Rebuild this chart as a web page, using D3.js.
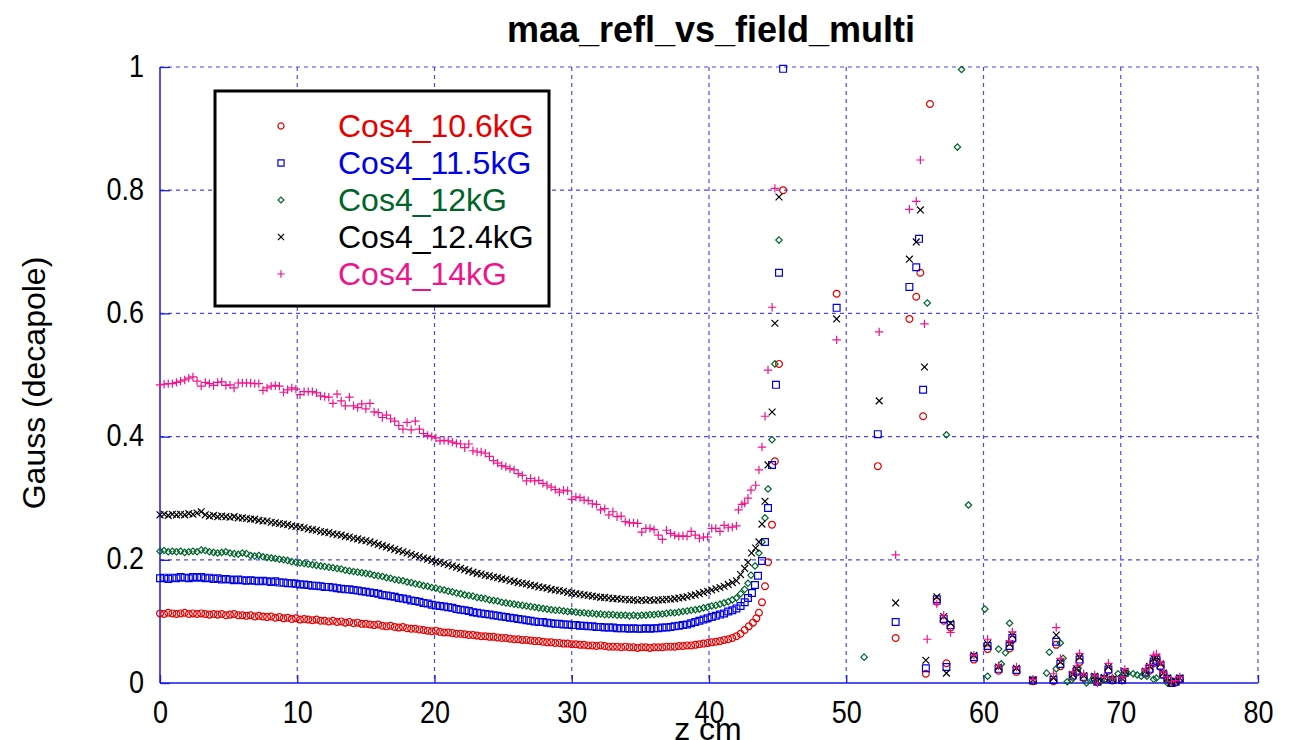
<!DOCTYPE html>
<html><head><meta charset="utf-8">
<script src="https://cdn.jsdelivr.net/npm/d3@7"></script>
<style>body{margin:0;background:#fff}svg{display:block}text{font-family:"Liberation Sans",Arial,sans-serif}</style>
</head><body><svg id="c" width="1295" height="740"></svg>
<script>
const title = "maa_refl_vs_field_multi";
const xLabel = "z cm";
const yLabel = "Gauss (decapole)";
const xTicks = [0,10,20,30,40,50,60,70,80];
const yTicks = [0,0.2,0.4,0.6,0.8,1];
const seriesNames = ["Cos4_10.6kG","Cos4_11.5kG","Cos4_12kG","Cos4_12.4kG","Cos4_14kG"];
const seriesColors = ["#e60000","#0000e6","#00642a","#000000","#f0148c"];
const seriesMarkers = ["circle","square","diamond","cross","plus"];

// dense sampling positions (cm)
const zDense = [0,0.3,0.6,0.9,1.2,1.5,1.8,2.1,2.4,2.7,3,3.3,3.6,3.9,4.2,4.5,4.8,5.1,5.4,5.7,
6,6.3,6.6,6.9,7.2,7.5,7.8,8.1,8.4,8.7,9,9.3,9.6,9.9,10.2,10.5,10.8,11.1,11.4,11.7,
12,12.3,12.6,12.9,13.2,13.5,13.8,14.1,14.4,14.7,15,15.3,15.6,15.9,16.2,16.5,16.8,17.1,17.4,17.7,
18,18.3,18.6,18.9,19.2,19.5,19.8,20.1,20.4,20.7,21,21.3,21.6,21.9,22.2,22.5,22.8,23.1,23.4,23.7,
24,24.3,24.6,24.9,25.2,25.5,25.8,26.1,26.4,26.7,27,27.3,27.6,27.9,28.2,28.5,28.8,29.1,29.4,29.7,
30,30.3,30.6,30.9,31.2,31.5,31.8,32.1,32.4,32.7,33,33.3,33.6,33.9,34.2,34.5,34.8,35.1,35.4,35.7,
36,36.3,36.6,36.9,37.2,37.5,37.8,38.1,38.4,38.7,39,39.3,39.6,39.9,40.2,40.5,40.8,41.1,41.4,41.7,42];

const red106 = [0.113,0.112,0.114,0.113,0.112,0.113,0.114,0.112,0.113,0.112,
0.113,0.112,0.111,0.112,0.111,0.112,0.110,0.111,0.112,0.110,
0.110,0.109,0.110,0.108,0.109,0.108,0.107,0.108,0.106,0.107,
0.105,0.106,0.104,0.105,0.103,0.104,0.103,0.102,0.103,0.101,
0.101,0.100,0.101,0.099,0.100,0.098,0.099,0.097,0.098,0.096,
0.096,0.095,0.094,0.095,0.093,0.092,0.093,0.091,0.090,0.091,
0.089,0.088,0.088,0.087,0.086,0.085,0.084,0.085,0.083,0.082,
0.082,0.081,0.080,0.080,0.079,0.078,0.078,0.077,0.076,0.076,
0.075,0.075,0.074,0.073,0.073,0.072,0.071,0.071,0.070,0.070,
0.069,0.068,0.068,0.067,0.066,0.066,0.065,0.065,0.064,0.064,
0.063,0.063,0.062,0.062,0.061,0.061,0.060,0.061,0.060,0.059,
0.059,0.059,0.058,0.059,0.058,0.058,0.057,0.058,0.058,0.057,
0.058,0.058,0.058,0.059,0.059,0.059,0.060,0.060,0.061,0.061,
0.062,0.063,0.064,0.065,0.066,0.067,0.068,0.070,0.071,0.073,0.076];
const red106Tail = [[42.3,0.080],[42.6,0.086],[42.9,0.092],[43.2,0.098],[43.45,0.105],[43.64,0.114],[43.86,0.131],[44.08,0.157],[44.3,0.196],[44.59,0.257],[44.8,0.36],[45.1,0.518],[45.4,0.80],[49.3,0.632],[52.3,0.352],[53.6,0.073],[54.6,0.591],[55.1,0.627],[55.4,0.666],[55.6,0.433],[55.8,0.015],[56.1,0.94],[56.6,0.132],[57.1,0.101],[57.3,0.032],[57.6,0.09],[59.3,0.038],[60.3,0.055],[61.1,0.02],[61.9,0.056],[62.1,0.07],[62.4,0.018],[63.6,0.003],[65.1,0.003],[65.3,0.062],[65.6,0.027],[66.5,0.01],[66.8,0.017],[67.0,0.034],[67.3,0.008],[68.1,0.007],[68.3,0.002],[68.8,0.006],[69.1,0.02],[69.4,0.004],[70.1,0.004],[70.3,0.015],[71.8,0.015],[72.1,0.02],[72.4,0.032],[72.6,0.035],[72.9,0.026],[73.1,0.013],[73.4,0.006],[73.7,0.0],[74.0,0.001],[74.3,0.006]];

const blue115 = [0.170,0.171,0.169,0.171,0.170,0.172,0.171,0.170,0.172,0.171,
0.172,0.170,0.171,0.169,0.170,0.168,0.169,0.168,0.167,0.168,
0.167,0.166,0.167,0.166,0.165,0.166,0.165,0.164,0.165,0.163,
0.163,0.162,0.162,0.161,0.160,0.160,0.159,0.158,0.158,0.157,
0.156,0.156,0.155,0.154,0.153,0.152,0.152,0.151,0.150,0.149,
0.148,0.147,0.146,0.145,0.143,0.142,0.141,0.140,0.138,0.137,
0.136,0.134,0.133,0.132,0.130,0.129,0.127,0.126,0.125,0.124,
0.123,0.122,0.120,0.119,0.118,0.117,0.115,0.114,0.113,0.112,
0.111,0.110,0.109,0.108,0.107,0.106,0.105,0.104,0.103,0.102,
0.101,0.100,0.099,0.099,0.098,0.097,0.096,0.096,0.095,0.095,
0.094,0.094,0.093,0.093,0.092,0.092,0.091,0.091,0.090,0.090,
0.090,0.089,0.089,0.089,0.088,0.089,0.088,0.088,0.089,0.088,
0.089,0.089,0.090,0.090,0.091,0.092,0.093,0.094,0.095,0.097,
0.099,0.101,0.103,0.105,0.107,0.109,0.111,0.113,0.116,0.118,0.121];
const blue115Tail = [[42.3,0.125],[42.6,0.131],[42.84,0.138],[43.13,0.146],[43.35,0.159],[43.57,0.174],[43.86,0.198],[44.08,0.229],[44.3,0.284],[44.59,0.354],[44.88,0.484],[45.1,0.666],[45.4,0.997],[49.3,0.609],[52.3,0.404],[53.6,0.099],[54.6,0.643],[55.1,0.675],[55.3,0.721],[55.6,0.476],[55.8,0.024],[56.6,0.136],[57.1,0.104],[57.3,0.026],[57.6,0.094],[59.3,0.042],[60.3,0.06],[61.1,0.023],[61.9,0.06],[62.1,0.073],[62.4,0.021],[63.6,0.004],[65.1,0.005],[65.3,0.067],[65.6,0.031],[66.5,0.012],[66.8,0.02],[67.0,0.038],[67.3,0.01],[68.1,0.009],[68.3,0.002],[68.8,0.007],[69.1,0.022],[69.4,0.005],[70.1,0.005],[70.3,0.017],[71.8,0.017],[72.1,0.023],[72.4,0.035],[72.6,0.038],[72.9,0.028],[73.1,0.014],[73.4,0.007],[73.7,0.0],[74.0,0.002],[74.3,0.007]];

const green12 = [0.214,0.215,0.213,0.214,0.213,0.214,0.212,0.213,0.214,0.213,
0.216,0.215,0.213,0.212,0.211,0.212,0.213,0.211,0.210,0.209,
0.211,0.210,0.207,0.206,0.207,0.205,0.204,0.203,0.202,0.201,
0.200,0.199,0.197,0.196,0.195,0.194,0.193,0.192,0.191,0.190,
0.189,0.188,0.187,0.186,0.185,0.183,0.182,0.181,0.180,0.179,
0.178,0.177,0.175,0.174,0.173,0.171,0.170,0.168,0.167,0.166,
0.164,0.163,0.161,0.160,0.158,0.157,0.155,0.154,0.152,0.151,
0.149,0.148,0.146,0.145,0.143,0.142,0.141,0.139,0.138,0.137,
0.135,0.134,0.133,0.131,0.130,0.129,0.128,0.127,0.126,0.125,
0.124,0.123,0.122,0.121,0.120,0.119,0.118,0.118,0.117,0.116,
0.116,0.115,0.114,0.114,0.113,0.113,0.112,0.112,0.111,0.111,
0.111,0.110,0.110,0.110,0.109,0.110,0.109,0.110,0.110,0.111,
0.111,0.112,0.112,0.113,0.114,0.114,0.115,0.116,0.117,0.118,
0.119,0.120,0.122,0.123,0.125,0.126,0.128,0.130,0.132,0.135,0.138];
const green12Tail = [[42.3,0.145],[42.6,0.152],[42.84,0.162],[43.06,0.175],[43.35,0.19],[43.64,0.211],[43.86,0.229],[44.08,0.268],[44.3,0.315],[44.59,0.395],[44.8,0.518],[45.1,0.719],[51.3,0.042],[55.9,0.617],[57.3,0.403],[58.1,0.87],[58.4,0.996],[58.9,0.289],[60.1,0.12],[60.3,0.011],[61.1,0.055],[61.3,0.031],[61.6,0.049],[61.9,0.097],[64.6,0.016],[64.8,0.05],[65.3,0.023],[65.6,0.065],[65.8,0.04],[66.1,0.002],[66.4,0.005],[66.9,0.024],[67.5,0.0],[67.9,0.005],[68.5,0.002],[68.9,0.006],[69.4,0.008],[69.8,0.015],[70.1,0.012],[70.5,0.016],[70.9,0.015],[71.2,0.013],[71.5,0.011],[71.9,0.011],[72.4,0.006],[72.6,0.008],[73.4,0.0]];

const black124 = [0.273,0.274,0.272,0.274,0.273,0.274,0.273,0.275,0.274,0.276,
0.278,0.273,0.271,0.272,0.270,0.271,0.270,0.269,0.270,0.268,
0.268,0.267,0.266,0.266,0.264,0.263,0.263,0.261,0.260,0.259,
0.258,0.257,0.255,0.254,0.253,0.252,0.250,0.249,0.248,0.246,
0.245,0.244,0.242,0.241,0.240,0.238,0.237,0.235,0.234,0.232,
0.231,0.229,0.227,0.225,0.223,0.221,0.219,0.217,0.215,0.213,
0.211,0.209,0.207,0.205,0.203,0.201,0.199,0.197,0.196,0.194,
0.192,0.190,0.188,0.186,0.184,0.182,0.180,0.178,0.177,0.175,
0.174,0.172,0.171,0.169,0.168,0.166,0.165,0.163,0.162,0.161,
0.159,0.158,0.156,0.155,0.154,0.152,0.151,0.150,0.149,0.147,
0.146,0.145,0.144,0.143,0.142,0.141,0.140,0.139,0.139,0.138,
0.137,0.137,0.136,0.136,0.135,0.135,0.134,0.135,0.134,0.135,
0.134,0.135,0.135,0.136,0.136,0.137,0.138,0.139,0.140,0.142,
0.143,0.145,0.147,0.149,0.151,0.153,0.155,0.157,0.160,0.163,0.166];
const black124Tail = [[42.3,0.176],[42.6,0.186],[42.84,0.196],[43.1,0.211],[43.4,0.219],[43.64,0.229],[43.86,0.258],[44.08,0.295],[44.3,0.354],[44.6,0.44],[44.8,0.584],[45.1,0.789],[49.3,0.591],[52.4,0.458],[53.6,0.13],[54.6,0.688],[55.1,0.716],[55.4,0.768],[55.7,0.513],[55.8,0.037],[56.6,0.14],[57.1,0.108],[57.3,0.016],[57.6,0.097],[59.3,0.045],[60.3,0.064],[61.1,0.026],[61.9,0.064],[62.1,0.078],[62.4,0.024],[63.6,0.005],[65.1,0.008],[65.3,0.078],[65.6,0.034],[66.5,0.014],[66.8,0.023],[67.0,0.042],[67.3,0.012],[68.1,0.011],[68.3,0.003],[68.8,0.009],[69.1,0.026],[69.4,0.006],[70.1,0.007],[70.3,0.019],[71.8,0.019],[72.1,0.027],[72.4,0.04],[72.6,0.042],[72.9,0.031],[73.1,0.016],[73.4,0.008],[73.7,0.001],[74.0,0.003],[74.3,0.008]];

const pink14 = [0.484,0.485,0.486,0.486,0.488,0.490,0.492,0.495,0.497,0.490,
0.482,0.488,0.486,0.483,0.488,0.489,0.483,0.484,0.479,0.487,
0.487,0.487,0.487,0.486,0.486,0.475,0.479,0.482,0.483,0.482,
0.472,0.476,0.479,0.477,0.468,0.473,0.473,0.473,0.471,0.466,
0.465,0.464,0.454,0.469,0.458,0.450,0.464,0.450,0.447,0.453,
0.445,0.454,0.440,0.439,0.431,0.435,0.429,0.425,0.418,0.412,
0.423,0.411,0.425,0.412,0.405,0.402,0.400,0.398,0.393,0.394,
0.393,0.391,0.389,0.388,0.382,0.388,0.377,0.375,0.375,0.373,
0.368,0.361,0.357,0.353,0.351,0.348,0.346,0.340,0.337,0.328,
0.332,0.328,0.329,0.324,0.321,0.318,0.314,0.310,0.313,0.312,
0.298,0.302,0.301,0.297,0.296,0.291,0.290,0.281,0.283,0.273,
0.278,0.270,0.271,0.262,0.260,0.260,0.259,0.245,0.251,0.251,
0.249,0.240,0.233,0.248,0.243,0.240,0.238,0.239,0.238,0.246,
0.240,0.235,0.237,0.237,0.251,0.251,0.246,0.256,0.252,0.253,0.255];
const pink14Tail = [[42.15,0.281],[42.4,0.29],[42.6,0.292],[42.84,0.300],[43.06,0.313],[43.4,0.321],[43.64,0.346],[43.86,0.383],[44.08,0.433],[44.3,0.508],[44.6,0.61],[44.8,0.803],[49.3,0.557],[52.4,0.57],[53.6,0.208],[54.6,0.769],[55.1,0.782],[55.4,0.849],[55.7,0.583],[55.9,0.071],[56.6,0.128],[57.1,0.11],[57.6,0.082],[59.3,0.045],[60.3,0.071],[61.1,0.028],[61.9,0.068],[62.1,0.083],[62.4,0.026],[63.6,0.006],[65.1,0.015],[65.3,0.09],[65.6,0.04],[66.5,0.018],[66.8,0.028],[67.0,0.048],[67.3,0.015],[68.1,0.013],[68.3,0.0],[68.8,0.01],[69.1,0.032],[69.4,0.008],[70.1,0.01],[70.3,0.022],[71.8,0.022],[72.1,0.03],[72.4,0.045],[72.6,0.047],[72.9,0.034],[73.1,0.018],[73.4,0.01],[73.7,0.002],[74.0,0.004],[74.3,0.01]];

const denseSets = [red106, blue115, green12, black124, pink14];
const tailSets = [red106Tail, blue115Tail, green12Tail, black124Tail, pink14Tail];

const svg = d3.select("#c");
const L = 160, R = 1258, T = 67, B = 683;
const x = d3.scaleLinear().domain([0,80]).range([L,R]);
const y = d3.scaleLinear().domain([0,1]).range([B,T]);
const gridColor = "#4a4aee", axisColor = "#1a1ae0";
const FONT = '"Liberation Sans",Arial,sans-serif';

// grid
const g = svg.append("g");
g.selectAll(".gx").data(xTicks.filter(d=>d>0)).join("line")
  .attr("x1",d=>x(d)).attr("x2",d=>x(d)).attr("y1",T).attr("y2",B)
  .attr("stroke",gridColor).attr("stroke-width",1.2).attr("stroke-dasharray","4,4");
g.selectAll(".gy").data(yTicks.filter(d=>d>0)).join("line")
  .attr("x1",L).attr("x2",R).attr("y1",d=>y(d)).attr("y2",d=>y(d))
  .attr("stroke",gridColor).attr("stroke-width",1.2).attr("stroke-dasharray","4,4");

// axes (solid left & bottom with inward ticks)
const xAxis = d3.axisBottom(x).tickValues(xTicks).tickSize(-8).tickFormat(d3.format("d"));
const yAxis = d3.axisLeft(y).tickValues(yTicks).tickSize(-10).tickFormat(d=>d===0?"0":d===1?"1":d3.format(".1f")(d));
const gx = svg.append("g").attr("transform",`translate(0,${B})`).call(xAxis);
const gy = svg.append("g").attr("transform",`translate(${L},0)`).call(yAxis);
[gx,gy].forEach(a=>{
  a.select(".domain").attr("stroke",axisColor).attr("stroke-width",1.5);
  a.selectAll(".tick line").attr("stroke",axisColor).attr("stroke-width",1.3);
  a.selectAll(".tick text").attr("fill","#000").style("font-size","27px").style("font-family",FONT);
});
// tall, slightly condensed tick digits like the reference
gx.selectAll(".tick text").attr("y",null).attr("dy",null).attr("transform","translate(0,40) scale(1,1.18)");
gy.selectAll(".tick text").attr("x",null).attr("dy",null).attr("transform","translate(-16,9) scale(1,1.18)");
gx.select(".domain").attr("d",`M${L},0H${R}`);
gy.select(".domain").attr("d",`M0,${B}V${T}`);

// markers
function markerPath(type, s){
  switch(type){
    case "circle": return `M${s},0A${s},${s} 0 1,1 ${-s},0A${s},${s} 0 1,1 ${s},0Z`;
    case "square": return `M${-s},${-s}H${s}V${s}H${-s}Z`;
    case "diamond": return `M0,${-s}L${s},0L0,${s}L${-s},0Z`;
    case "cross": return `M${-s},${-s}L${s},${s}M${-s},${s}L${s},${-s}`;
    case "plus": return `M${-s},0H${s}M0,${-s}V${s}`;
  }
}
const markerSize = {circle:3.4, square:3.4, diamond:3.2, cross:3.4, plus:4.2};

const plot = svg.append("g");
denseSets.forEach((arr,k)=>{
  const pts = arr.map((v,i)=>[zDense[i],v]).concat(tailSets[k]);
  const type = seriesMarkers[k];
  plot.append("g").selectAll("path").data(pts).join("path")
    .attr("transform",d=>`translate(${x(d[0])},${y(d[1])})`)
    .attr("d",markerPath(type,markerSize[type]))
    .attr("fill","none").attr("stroke",seriesColors[k]).attr("stroke-width",1.2);
});

// title & labels
svg.append("text").attr("x",711).attr("y",42).attr("text-anchor","middle")
  .style("font-size","36px").style("font-weight","bold").text(title);
svg.append("text").attr("x",708).attr("y",740).attr("text-anchor","middle")
  .style("font-size","32px").text(xLabel);
svg.append("text").attr("transform","translate(45,383) rotate(-90)").attr("text-anchor","middle")
  .style("font-size","32px").text(yLabel);

// legend
const lg = svg.append("g");
lg.append("rect").attr("x",215).attr("y",91).attr("width",334).attr("height",215)
  .attr("fill","#fff").attr("stroke","#000").attr("stroke-width",3);
seriesNames.forEach((n,k)=>{
  const cy = 126 + k*37;
  const type = seriesMarkers[k];
  lg.append("path").attr("transform",`translate(281,${cy})`).attr("d",markerPath(type,markerSize[type]*0.9))
    .attr("fill","none").attr("stroke",seriesColors[k]).attr("stroke-width",1.2);
  lg.append("text").attr("x",338).attr("y",cy+11).style("font-size","32px").attr("fill",seriesColors[k]).text(n);
});
</script></body></html>
